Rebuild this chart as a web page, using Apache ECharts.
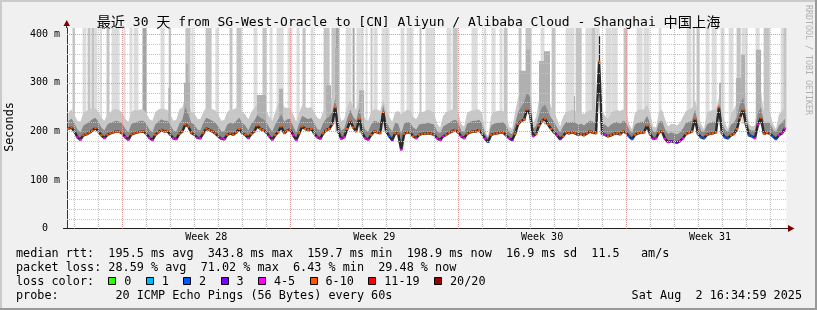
<!DOCTYPE html>
<html><head><meta charset="utf-8">
<script src="https://cdn.jsdelivr.net/npm/echarts@6/dist/echarts.min.js"></script>
<style>html,body{margin:0;padding:0;background:#f0f0f0}#c{width:817px;height:310px}</style>
</head><body><div id="c"></div>
<script>
// ---------------- DATA ----------------
// title parts: [text, isCJK]
const titleParts = [['最近',1],[' 30 ',0],['天',1],[' from SG-West-Oracle to [CN] Aliyun / Alibaba Cloud - Shanghai ',0],['中国上海',1]];
// time in days since Jul 3 2025 00:00
const startDay = 0.691, endDay = 30.691;
const sampleStart = 0.75, sampleStep = 0.125; // 3-hour samples
const yMax = 413;

const median = [205,208,
200,188,183,192,194,197,202,207,
200,192,186,193,196,198,200,199,
196,188,183,194,196,198,199,200,
195,187,182,193,198,203,200,201,
193,186,184,195,200,214,210,197,
193,187,186,196,206,203,200,196,
190,185,184,193,196,193,198,205,
196,193,186,195,200,212,205,203,
198,190,183,192,199,210,196,202,
204,192,182,196,210,205,203,205,
196,188,185,196,203,205,215,250,
200,185,188,205,222,208,200,226,
197,186,183,193,200,198,196,240,
200,190,182,196,195,162,195,198,
197,190,186,193,195,195,196,195,
193,186,182,190,193,197,200,203,
198,190,186,195,198,200,200,203,
195,185,178,193,195,196,197,198,
192,186,182,195,215,221,225,245,
235,190,195,212,222,226,214,205,
198,192,184,190,198,196,198,196,
193,195,192,196,200,197,196,344,
195,193,190,192,195,196,194,200,
197,190,184,193,196,197,198,212,
195,185,186,198,200,185,178,180,
178,177,180,186,195,197,200,226,
195,188,186,193,195,196,198,250,
196,188,186,192,195,205,228,245,
215,192,190,186,214,228,195,197,
195,190,184,192,196,206];

const loss = [8,8,
8,5,5,8,8,8,8,8,
8,8,5,8,8,8,8,8,
8,5,5,8,8,8,8,8,
8,5,5,8,8,8,8,8,
8,5,5,8,8,8,8,8,
8,5,5,8,8,8,8,8,
8,5,5,8,8,8,8,8,
8,8,5,8,8,8,8,8,
8,5,5,8,8,8,8,8,
8,5,5,8,8,8,8,8,
8,5,5,8,8,8,8,8,
8,5,5,8,8,8,8,8,
8,5,5,8,8,8,8,8,
8,2,3,8,8,5,8,8,
8,8,5,8,8,8,8,8,
8,5,5,5,8,8,8,8,
8,5,5,8,8,8,8,8,
8,5,2,8,8,8,8,8,
8,5,3,8,8,8,8,8,
8,5,8,8,8,8,8,8,
8,5,3,8,8,8,8,8,
8,8,8,8,8,8,8,8,
5,5,8,8,8,8,8,8,
8,2,2,8,8,8,8,8,
8,5,5,8,8,5,5,3,
5,3,5,5,8,8,8,8,
8,2,2,8,8,8,8,8,
8,2,2,8,8,8,8,8,
8,2,2,5,5,8,8,8,
8,2,2,5,5,5];

const smokeTop = [240,245,
235,222,220,238,242,245,248,247,
240,228,222,236,240,245,246,244,
238,225,220,240,244,243,245,245,
238,225,222,240,245,247,246,244,
236,222,224,245,250,270,262,240,
238,226,225,240,250,248,246,243,
235,222,224,240,245,245,248,250,
240,235,225,240,248,255,252,250,
242,230,222,240,260,268,250,248,
248,235,220,238,255,250,248,250,
240,228,225,242,255,265,270,290,
245,222,225,250,265,250,245,270,
240,225,222,240,245,245,242,265,
245,230,220,240,242,235,240,245,
242,230,225,238,240,242,245,242,
238,215,208,232,240,242,245,245,
240,215,210,238,242,243,245,245,
238,200,190,232,240,242,243,242,
236,210,205,240,270,285,300,320,
300,215,230,265,300,295,275,250,
242,225,210,230,240,242,245,242,
240,238,236,240,244,242,242,250,
240,232,225,238,242,244,242,245,
242,215,205,238,244,245,245,255,
240,210,208,240,245,225,210,215,
215,212,218,230,242,245,248,265,
240,215,205,238,242,244,245,270,
240,218,205,235,245,260,290,300,
270,215,210,212,270,280,240,242,
240,215,205,235,242,250];

const smokeMid = [222,226,
218,204,198,212,216,220,225,228,
220,208,202,214,218,220,222,220,
216,205,198,215,218,220,222,222,
215,204,198,214,220,225,222,222,
214,202,200,216,224,250,235,218,
214,204,202,218,228,225,222,218,
210,200,200,214,218,216,222,228,
218,212,202,216,222,234,228,225,
220,208,200,214,225,235,220,225,
226,210,198,218,232,228,225,228,
218,205,202,218,226,230,240,268,
222,202,206,226,245,230,222,248,
218,203,200,214,222,220,218,255,
222,208,200,218,216,195,216,220,
218,208,204,214,216,216,218,216,
214,200,196,210,214,218,222,224,
220,202,198,216,220,222,222,224,
216,195,186,212,216,218,218,220,
212,198,194,216,240,250,260,280,
270,205,212,235,250,255,240,228,
220,208,198,210,220,218,220,218,
214,216,212,218,222,220,218,250,
216,214,208,214,218,220,216,222,
220,204,196,214,218,220,220,232,
218,200,198,220,222,205,195,198,
196,194,198,206,218,220,222,245,
218,202,198,214,218,220,220,258,
218,204,198,214,218,230,255,270,
240,205,202,202,238,250,218,218,
218,204,198,212,218,226];

// outlier columns reaching the top of the graph (start day, end day, density 1..3)
const spikeStart = [0.94,1.36,1.57,1.73,1.86,2.07,2.36,2.57,3.07,3.32,3.49,3.86,4.61,4.95,5.65,5.90,6.49,6.90,7.49,7.78,
 8.49,8.86,9.16,9.45,9.91,10.28,10.53,10.87,11.41,11.74,11.91,12.33,12.62,12.78,13.16,13.37,13.49,13.83,14.62,14.87,
 15.41,15.66,16.54,16.79,17.58,18.08,18.41,18.75,18.92,19.54,19.83,20.46,20.92,21.50,21.92,22.33,22.58,22.75,23.17,23.42,
 23.92,24.46,24.75,25.38,26.55,26.80,26.96,27.34,27.59,27.96,28.30,28.63,28.84,29.42,29.76,30.47,30.59];
const spikeEnd = [1.00,1.48,1.65,1.82,1.94,2.13,2.44,2.86,3.11,3.40,3.65,3.99,4.74,5.01,5.82,5.95,6.70,6.99,7.57,7.95,
 8.61,8.99,9.24,9.70,10.07,10.37,10.62,10.95,11.62,11.87,12.03,12.53,12.66,13.04,13.20,13.41,13.62,14.12,14.74,15.12,
 15.45,16.00,16.70,16.96,17.79,18.16,18.54,18.83,19.04,19.62,20.04,20.58,21.04,21.83,22.13,22.54,22.71,22.88,23.38,23.63,
 24.04,24.67,24.96,25.46,26.71,26.84,27.05,27.46,27.76,28.09,28.46,28.76,29.05,29.55,29.97,30.59,30.67];
const spikeLevel = [2,1,2,2,1,1,2,1,1,1,1,3,1,2,2,1,2,1,2,2,
 1,2,1,1,1,1,2,1,2,2,3,1,3,1,1,2,1,1,1,1,
 2,1,1,2,1,1,1,1,2,2,2,1,2,1,2,1,2,1,1,1,
 2,1,1,1,1,2,2,1,1,1,1,2,1,1,2,1,2];

// tall smoke plumes (start day, end day, top value, density)
const plumeStart = [4.92,5.57,5.65,5.74,8.61,9.53,11.49,11.87,12.87,19.54,19.83,20.37,20.58,21.83,22.87,27.88,28.59,28.80,29.42];
const plumeEnd   = [5.01,5.65,5.74,5.82,8.99,9.70,11.70,12.00,13.08,19.83,20.00,20.58,20.83,21.87,22.92,27.96,28.80,28.96,29.63];
const plumeTop   = [290,300,340,300,275,288,295,372,285,325,368,345,365,273,396,300,310,358,368];
const plumeLevel = [1,1,1,1,1,1,1,1,1,1,1,1,1,1,2,1,1,1,1];

const dayLines = [1,2,3,4,5,6,7,8,9,10,11,12,13,14,15,16,17,18,19,20,21,22,23,24,25,26,27,28,29,30];
const weekLines = [3,10,17,24];
const weekMid = [6.5,13.5,20.5,27.5];
const weekLabels = ['Week 28','Week 29','Week 30','Week 31'];
const yGridMinor = [20,40,60,80,120,140,160,180,220,240,260,280,320,340,360,380];
const yGridMajor = [100,200,300,400];
const yTickValues = [0,100,200,300,400];
const yTickLabels = ['0  ','100 m','200 m','300 m','400 m'];

const rttValues = ['195.5','343.8','159.7','198.9','16.9'];
const rttNames = ['avg','max','min','now','sd'];
const amValue = '11.5';
const lossValues = ['28.59','71.02','6.43','29.48'];
const lossNames = ['avg','max','min','now'];
const lossLabels = ['0','1','2','3','4-5','6-10','11-19','20/20'];
const lossUpper = [0,1,2,3,5,10,19,20];
const probeText = '20 ICMP Echo Pings (56 Bytes) every 60s';
const dateText = 'Sat Aug  2 16:34:59 2025';

// ---------------- STYLE ----------------
const mono = "'DejaVu Sans Mono', 'Noto Sans CJK SC', monospace";
const lossColors = ['#26ff00','#00b8ff','#0059ff','#7e00ff','#ff00ff','#ff5500','#ff0000','#a10000'];
const spikeColors = ['#dcdcdc','#c4c4c4','#a4a4a4'];
const plumeColors = ['#b0b0b0','#1e1e1e'];
const gridColor = '#c4c4c4', mgridColor = '#de9696';
function lossColor(l){ for (let i=0;i<lossUpper.length;i++) if (l<=lossUpper[i]) return lossColors[i]; return lossColors[lossColors.length-1]; }

// ---------------- BUILD ----------------
const N = median.length;
const times = median.map((_, i) => sampleStart + i * sampleStep);
function medAt(t){ let i = Math.round((t - sampleStart) / sampleStep); i = Math.max(0, Math.min(N - 1, i)); return median[i]; }
const baseData = times.map((t, i) => [t, median[i]]);
const spikeData = spikeStart.map((s, i) => [s, spikeEnd[i], spikeLevel[i]]);
const plumeData = plumeStart.map((s, i) => [s, plumeEnd[i], plumeTop[i], plumeLevel[i]]);
const medMarks = times.map((t, i) => [t, median[i], loss[i]]);
const vGrid = dayLines.map(d => [d, 0, weekLines.includes(d) ? 1 : 0]);
const hGrid = yGridMinor.map(v => [startDay, v, 0]).concat(yGridMajor.map(v => [startDay, v, 1]));
const titleRich = titleParts.map(p => p[1] ? '{c|' + p[0] + '}' : '{l|' + p[0] + '}').join('');

function bandSeries(name, upper, color, z) {
  return {type: 'custom', name: name, z: z, silent: true, clip: true, animation: false,
    encode: {x: 0, y: 1}, data: [[times[0], median[0]]],
    renderItem: (p, api) => {
      const pts = [];
      for (let i = 0; i < N; i++) pts.push(api.coord([times[i], Math.max(upper[i], median[i])]));
      for (let i = N - 1; i >= 0; i--) pts.push(api.coord([times[i], median[i]]));
      return {type: 'polygon', shape: {points: pts}, style: {fill: color}};
    }};
}

const chart = echarts.init(document.getElementById('c'), null, {width: 817, height: 310});

const graphics = [];
graphics.push({type:'rect', shape:{x:0,y:0,width:817,height:2}, style:{fill:'#cbcbcb'}, silent:true});
graphics.push({type:'rect', shape:{x:0,y:0,width:2,height:310}, style:{fill:'#cbcbcb'}, silent:true});
graphics.push({type:'rect', shape:{x:0,y:308,width:817,height:2}, style:{fill:'#999999'}, silent:true});
graphics.push({type:'rect', shape:{x:815,y:0,width:2,height:310}, style:{fill:'#999999'}, silent:true});
graphics.push({type:'line', shape:{x1:63,y1:228.5,x2:67,y2:228.5}, style:{stroke:'#222',lineWidth:1}, silent:true, z:50});
graphics.push({type:'line', shape:{x1:786,y1:228.5,x2:789,y2:228.5}, style:{stroke:'#222',lineWidth:1}, silent:true, z:50});
graphics.push({type:'line', shape:{x1:66.5,y1:24,x2:66.5,y2:28}, style:{stroke:'#333',lineWidth:1}, silent:true, z:50});
graphics.push({type:'polygon', shape:{points:[[788,225],[788,232],[794.5,228.5]]}, style:{fill:'#7f0000'}, silent:true, z:50});
graphics.push({type:'polygon', shape:{points:[[63.5,26],[70,26],[66.75,20]]}, style:{fill:'#7f0000'}, silent:true, z:50});

function txt(x, y, text, size, align) {
  return {type:'text', x:x, y:y, silent:true, z:50,
    style:{text:text, font: 'normal ' + size + 'px ' + mono, fill:'#000',
      textAlign: align || 'left', align: align || 'left', textVerticalAlign:'middle', verticalAlign:'middle'}};
}
const secondsLabel = txt(10, 127, 'Seconds', 11.8, 'center'); secondsLabel.rotation = Math.PI / 2;
graphics.push(secondsLabel);
graphics.push({type:'text', x:808.5, y:60, rotation:-Math.PI/2, silent:true, z:50,
  style:{text:'RRDTOOL / TOBI OETIKER', font:'normal 8.3px '+mono, fill:'#b0b0b0', textAlign:'center', align:'center', textVerticalAlign:'middle', verticalAlign:'middle'}});

let line1 = 'median rtt:  ';
rttValues.forEach((v, i) => { line1 += v + ' ms ' + rttNames[i] + '  '; });
line1 += amValue + '   am/s';
let line2 = 'packet loss: ';
lossValues.forEach((v, i) => { line2 += v + ' % ' + lossNames[i] + (i < lossValues.length - 1 ? '  ' : ''); });
graphics.push(txt(16, 254, line1, 11.8));
graphics.push(txt(16, 268, line2, 11.8));
graphics.push(txt(16, 282, 'loss color:', 11.8));
graphics.push(txt(16, 296, 'probe:        ' + probeText, 11.8));
graphics.push(txt(802, 296, dateText, 11.8, 'right'));
let bx = 108.3;
lossLabels.forEach((lab, i) => {
  const x0 = Math.round(bx) + 0.5;
  graphics.push({type:'rect', shape:{x:x0, y:277.5, width:7, height:7}, style:{fill:lossColors[i], stroke:'#000', lineWidth:1}, silent:true, z:50});
  graphics.push(txt(bx + 16, 282, lab, 11.8));
  bx = bx + 16 + lab.length * 7.1 + 14.3;
});

const option = {
  backgroundColor: '#f0f0f0',
  animation: false,
  title: {text: titleRich, left: 'center', top: 9,
    textStyle: {fontFamily: mono, fontSize: 13, fontWeight: 'normal', color: '#000',
      rich: {l: {fontFamily: mono, fontSize: 13, color: '#000', lineHeight: 18},
             c: {fontFamily: "'Noto Sans CJK SC', sans-serif", fontSize: 14.2, color: '#000', lineHeight: 18, padding: [0, 0, 3, 0]}}}},
  grid: {left: 67, top: 28, width: 719.5, height: 200.5, show: true, backgroundColor: '#ffffff', borderWidth: 0},
  xAxis: {type: 'value', min: startDay, max: endDay,
    splitLine: {show: false}, axisTick: {show: false},
    axisLine: {show: true, lineStyle: {color: '#222', width: 1}},
    axisLabel: {customValues: weekMid, margin: 4, fontFamily: mono, fontSize: 10, color: '#000',
      formatter: (v) => { let k = 0, best = 1e9; weekMid.forEach((w, i) => { if (Math.abs(w - v) < best) { best = Math.abs(w - v); k = i; } }); return weekLabels[k]; }}},
  yAxis: {type: 'value', min: 0, max: yMax,
    splitLine: {show: false}, axisTick: {show: false},
    axisLine: {show: true, lineStyle: {color: '#333', width: 1}},
    axisLabel: {customValues: yTickValues, margin: 7, fontFamily: mono, fontSize: 10, color: '#000',
      formatter: (v) => { const i = yTickValues.indexOf(v); return i >= 0 ? yTickLabels[i] : ''; }}},
  graphic: graphics,
  series: [
    {type: 'custom', name: 'outliers', z: 1, silent: true, clip: true, animation: false,
      encode: {x: [0, 1], y: 2}, data: spikeData,
      renderItem: (p, api) => {
        const s = api.value(0), e = api.value(1), l = api.value(2);
        const a = api.coord([s, yMax]);
        const b = api.coord([e, medAt((s + e) / 2)]);
        return {type: 'rect', shape: {x: a[0] - 0.5, y: a[1], width: Math.max(1.5, b[0] - a[0] + 1), height: b[1] - a[1]},
          style: {fill: spikeColors[l - 1]}};
      }},
    bandSeries('smokeOuter', smokeTop, '#c8c8c8', 2),
    {type: 'custom', name: 'plumes', z: 3, silent: true, clip: true, animation: false,
      encode: {x: [0, 1], y: 2}, data: plumeData,
      renderItem: (p, api) => {
        const s = api.value(0), e = api.value(1), top = api.value(2), l = api.value(3);
        const a = api.coord([s, top]);
        const b = api.coord([e, medAt((s + e) / 2)]);
        return {type: 'rect', shape: {x: a[0], y: a[1], width: Math.max(1, b[0] - a[0]), height: b[1] - a[1]},
          style: {fill: plumeColors[l - 1]}};
      }},
    bandSeries('smokeInner', smokeMid, '#888888', 4),
    {type: 'line', name: 'medianCore', z: 5, symbol: 'none', silent: true, animation: false, data: baseData,
      lineStyle: {color: '#2a2a2a', width: 2.5}},
    {type: 'custom', name: 'medianLoss', z: 6, silent: true, clip: true, animation: false,
      encode: {x: 0, y: 1}, data: medMarks,
      renderItem: (p, api) => {
        const t = api.value(0), m = api.value(1), l = api.value(2);
        const a = api.coord([t - 0.05, m]), b = api.coord([t + 0.05, m]);
        return {type: 'line', shape: {x1: a[0], y1: a[1], x2: b[0], y2: b[1]},
          style: {stroke: lossColor(l), lineWidth: 2}};
      }},
    {type: 'custom', name: 'vgrid', z: 7, silent: true, animation: false,
      encode: {x: 0, y: 1}, data: vGrid,
      renderItem: (p, api) => {
        const x = Math.round(api.coord([api.value(0), 0])[0]) + 0.5;
        const top = api.coord([startDay, yMax])[1], bot = api.coord([startDay, 0])[1];
        return {type: 'line', shape: {x1: x, y1: top, x2: x, y2: bot},
          style: {stroke: api.value(2) ? mgridColor : gridColor, lineWidth: 1, lineDash: [1, 1]}};
      }},
    {type: 'custom', name: 'hgrid', z: 7, silent: true, animation: false,
      encode: {x: 0, y: 1}, data: hGrid,
      renderItem: (p, api) => {
        const y = Math.round(api.coord([startDay, api.value(1)])[1]) + 0.5;
        const l = api.coord([startDay, 0])[0], r = api.coord([endDay, 0])[0];
        return {type: 'line', shape: {x1: l, y1: y, x2: r, y2: y},
          style: {stroke: api.value(2) ? mgridColor : gridColor, lineWidth: 1, lineDash: [1, 1]}};
      }}
  ]
};
chart.setOption(option);
</script>
</body></html>
